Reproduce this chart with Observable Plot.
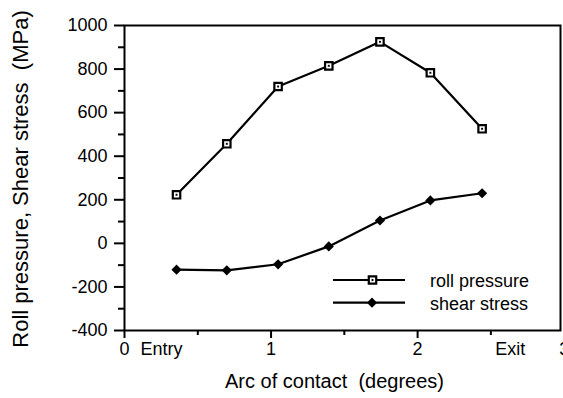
<!DOCTYPE html>
<html>
<head>
<meta charset="utf-8">
<script src="https://cdn.jsdelivr.net/npm/d3@7"></script>
<script src="https://cdn.jsdelivr.net/npm/@observablehq/plot@0.6"></script>
<style>
  body { margin: 0; background: white; }
  svg text { white-space: pre; }
</style>
</head>
<body>
<div id="chart"></div>
<script>
// Data
const arc = [0.355, 0.698, 1.048, 1.394, 1.743, 2.087, 2.44];           // degrees
const rollPressure = [223, 457, 720, 815, 925, 783, 526];                // MPa
const shearStress = [-121, -124, -96, -14, 105, 197, 230];               // MPa
const seriesNames = ["roll pressure", "shear stress"];
const yMajorTicks = [-400, -200, 0, 200, 400, 600, 800, 1000];
const yMinorTicks = [-300, -100, 100, 300, 500, 700, 900];
const xMajorTicks = [0, 1, 2];
const xMinorTicks = [0.5, 1.5, 2.5];
const xTickLabels = [0, 1, 2, 3];
const xWordLabels = [{x: 0.109, label: "Entry"}, {x: 2.53, label: "Exit"}];
const xTitle = "Arc of contact  (degrees)";
const yTitle = "Roll pressure, Shear stress  (MPa)";

const roll = arc.map((x, i) => ({x, y: rollPressure[i]}));
const shear = arc.map((x, i) => ({x, y: shearStress[i]}));

const chart = Plot.plot({
  width: 563,
  height: 398,
  marginLeft: 124,
  marginRight: 3,
  marginTop: 25,
  marginBottom: 68,
  style: {fontFamily: "'Liberation Sans', Arial, sans-serif", fontSize: "18px", background: "white", color: "black"},
  x: {domain: [0, 2.975]},
  y: {domain: [-400, 1000]},
  marks: [
    Plot.axisY({ticks: yMajorTicks, tickSize: 10, tickPadding: 7, strokeWidth: 2, tickFormat: d => String(d), label: null, fontSize: 18}),
    Plot.axisY({ticks: yMinorTicks, tickSize: 6, strokeWidth: 2, text: null, label: null}),
    Plot.axisX({ticks: xMajorTicks, tickSize: 8, strokeWidth: 2, text: null, label: null}),
    Plot.axisX({ticks: xMinorTicks, tickSize: 5, strokeWidth: 2, text: null, label: null}),
    Plot.text(xTickLabels, {x: d => d, frameAnchor: "bottom", dy: 24, text: d => String(d), fontSize: 18}),
    Plot.text(xWordLabels, {x: "x", frameAnchor: "bottom", dy: 24, text: "label", textAnchor: "start", fontSize: 18}),
    Plot.text([xTitle], {frameAnchor: "bottom", dx: -8, dy: 57, fontSize: 20}),
    Plot.text([yTitle], {frameAnchor: "left", dx: -104, dy: 1, rotate: -90, textAnchor: "middle", fontSize: 22}),
    Plot.frame({strokeWidth: 2}),
    Plot.line(roll, {x: "x", y: "y", stroke: "black", strokeWidth: 2.2}),
    Plot.line(shear, {x: "x", y: "y", stroke: "black", strokeWidth: 2.2}),
    Plot.dot(roll, {x: "x", y: "y", symbol: "square", r: 4.2, stroke: "black", strokeWidth: 2.2, fill: "white"}),
    Plot.dot(roll, {x: "x", y: "y", symbol: "square", r: 1.1, fill: "black"}),
    Plot.dot(shear, {x: "x", y: "y", symbol: "diamond2", r: 4.6, fill: "black"})
  ]
});
document.getElementById("chart").appendChild(chart);

// Legend (inside plot area, lower right)
const svg = d3.select(chart);
const lg = svg.append("g").attr("class", "legend");
const items = [
  {name: seriesNames[0], sym: "square", cy: 280},
  {name: seriesNames[1], sym: "diamond", cy: 302.7}
];
items.forEach(it => {
  lg.append("line").attr("x1", 333).attr("x2", 405).attr("y1", it.cy).attr("y2", it.cy)
    .attr("stroke", "black").attr("stroke-width", 2.2);
  if (it.sym === "square") {
    lg.append("path").attr("transform", `translate(372.5,${it.cy})`)
      .attr("d", d3.symbol(d3.symbolSquare, Math.PI * 4.2 * 4.2)())
      .attr("fill", "white").attr("stroke", "black").attr("stroke-width", 2.2);
    lg.append("path").attr("transform", `translate(372.5,${it.cy})`)
      .attr("d", d3.symbol(d3.symbolSquare, Math.PI * 1.1 * 1.1)())
      .attr("fill", "black");
  } else {
    lg.append("path").attr("transform", `translate(372,${it.cy})`)
      .attr("d", d3.symbol(d3.symbolDiamond2, Math.PI * 4.6 * 4.6)())
      .attr("fill", "black");
  }
  lg.append("text").attr("x", 430).attr("y", it.cy + 1.5).attr("dy", "0.32em")
    .attr("text-anchor", "start")
    .attr("font-size", 18).attr("fill", "black").text(it.name);
});
</script>
</body>
</html>
